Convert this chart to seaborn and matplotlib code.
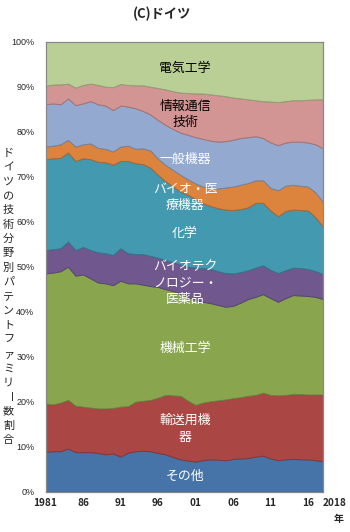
import matplotlib
matplotlib.use("Agg")
import matplotlib.pyplot as plt
import seaborn as sns
import numpy as np
from matplotlib.colors import to_rgb

sns.set_style("white")
plt.rcParams['font.family'] = ['Noto Sans CJK JP', 'DejaVu Sans']

years = list(range(1981, 2019))

other = [8.9, 9.0, 9.0, 9.6, 8.8, 8.8, 8.8, 8.6, 8.3, 8.5,
         7.8, 8.7, 9.0, 9.1, 9.0, 8.6, 8.3, 7.7, 7.2, 6.9,
         6.7, 7.0, 7.2, 7.1, 7.0, 7.3, 7.4, 7.5, 7.8, 8.0,
         7.4, 7.0, 7.2, 7.3, 7.2, 7.2, 7.0, 6.8]
transport = [10.7, 10.4, 10.8, 10.8, 10.3, 10.1, 9.9, 9.9, 10.2, 10.1,
             11.1, 10.3, 11.0, 11.1, 11.4, 12.3, 13.2, 13.7, 14.1, 13.3,
             12.6, 12.8, 12.9, 13.2, 13.5, 13.5, 13.6, 13.8, 13.7, 14.0,
             14.1, 14.4, 14.3, 14.4, 14.5, 14.4, 14.6, 14.8]
mech = [28.9, 29.3, 29.2, 29.6, 28.9, 29.4, 28.7, 28.0, 27.8, 27.3,
        28.0, 27.3, 26.3, 25.8, 25.3, 24.6, 23.5, 23.2, 22.7, 23.1,
        23.3, 22.4, 21.8, 21.2, 20.6, 20.5, 21.0, 21.5, 21.8, 21.9,
        21.5, 20.8, 21.5, 22.0, 21.9, 21.9, 21.7, 21.2]
biotech = [5.2, 5.2, 5.1, 5.6, 5.7, 6.1, 6.3, 6.7, 6.7, 6.7,
           7.2, 6.7, 6.5, 6.8, 6.7, 6.5, 6.5, 6.4, 6.5, 6.7,
           7.2, 7.5, 7.6, 7.5, 7.5, 7.2, 6.8, 6.4, 6.5, 6.4,
           6.3, 6.4, 6.2, 6.1, 6.1, 6.0, 5.7, 5.6]
chem = [20.2, 20.2, 20.1, 19.8, 19.8, 19.7, 20.2, 20.1, 20.2, 20.1,
        19.4, 20.5, 20.2, 20.0, 19.6, 18.4, 17.5, 16.8, 16.2, 16.0,
        15.2, 14.4, 14.0, 14.0, 14.1, 14.1, 14.0, 14.0, 14.4, 13.9,
        13.2, 12.6, 13.2, 12.9, 12.9, 13.0, 12.0, 10.5]
medtech = [2.8, 2.8, 3.0, 2.8, 3.2, 3.1, 3.5, 3.1, 3.0, 2.9,
           3.2, 3.4, 3.2, 3.5, 3.8, 3.6, 3.6, 3.7, 3.7, 3.4,
           3.5, 3.7, 4.1, 4.4, 4.9, 5.2, 5.4, 5.4, 5.0, 5.0,
           5.0, 5.8, 5.6, 5.5, 5.4, 5.3, 5.5, 5.5]
general = [9.4, 9.4, 8.9, 9.2, 9.2, 9.1, 9.4, 9.7, 9.6, 9.2,
           9.1, 8.7, 9.0, 8.3, 8.0, 8.6, 8.9, 9.1, 9.4, 9.9,
           10.3, 10.6, 10.4, 10.4, 10.3, 10.4, 10.4, 10.2, 9.8, 9.4,
           10.1, 10.0, 9.6, 9.6, 9.8, 9.8, 10.7, 11.9]
ict = [4.1, 4.2, 4.4, 3.3, 3.9, 4.1, 3.9, 4.3, 4.2, 5.1,
       4.8, 4.8, 5.1, 5.7, 6.2, 7.1, 7.9, 8.4, 8.9, 9.3,
       9.7, 10.1, 10.3, 10.3, 10.0, 9.4, 8.8, 8.4, 8.0, 8.2,
       9.1, 9.6, 9.2, 9.2, 9.2, 9.5, 10.0, 10.9]
elec = [9.8, 9.5, 9.5, 9.3, 10.2, 9.6, 9.3, 9.6, 10.0, 10.1,
        9.4, 9.6, 9.7, 9.7, 10.0, 10.3, 10.6, 11.0, 11.3, 11.4,
        11.5, 11.5, 11.7, 11.9, 12.1, 12.4, 12.6, 12.8, 13.0, 13.2,
        13.3, 13.4, 13.2, 13.0, 13.0, 12.9, 12.8, 12.8]

series = [other, transport, mech, biotech, chem, medtech, general, ict, elec]
colors = ['#4673a8', '#aa4644', '#89a54e', '#70588f', '#4299b0',
          '#dc843e', '#93a9cf', '#d39494', '#bacf96']

labels = ['その他', '輸送用機\n器', '機械工学', 'バイオテク\nノロジー・\n医薬品', '化学',
          'バイオ・医\n療機器', '一般機器', '情報通信\n技術', '電気工学']
label_y = [476.7, 429, 348.3, 283.3, 233.3, 197.5, 159, 114.5, 68.5]
label_col = ['white'] * 7 + ['black', 'black']

year_ticks = [1981, 1986, 1991, 1996, 2001, 2006, 2011, 2016, 2018]
year_ticklabels = ['1981', '86', '91', '96', '01', '06', '11', '16', '2018']

W, H = 350, 532
fig = plt.figure(figsize=(W / 100, H / 100), dpi=100)
ax = fig.add_axes([45.5 / W, 1 - 491.7 / H, (323 - 45.5) / W, (491.7 - 41.7) / H])

polys = ax.stackplot(years, *series, colors=colors)
for p, c in zip(polys, colors):
    dark = tuple(v * 0.78 for v in to_rgb(c))
    p.set_edgecolor(dark)
    p.set_linewidth(0.7)

ax.set_xlim(1981, 2018)
ax.set_ylim(0, 100)
ax.set_yticks(range(0, 101, 10))
ax.set_yticklabels([f'{v}%' for v in range(0, 101, 10)], family='Liberation Sans', fontsize=6.5)
ax.set_xticks(year_ticks)
ax.set_xticklabels(year_ticklabels, fontsize=7.2, fontweight='bold')
ax.set_xticks(years, minor=True)
ax.tick_params(axis='y', direction='in', length=3, width=0.6, color='#888888', pad=8, left=True)
ax.tick_params(axis='x', which='both', direction='in', length=3, width=0.6, color='#888888',
               pad=4.5, bottom=True)
for t in ax.get_xticklabels():
    if t.get_text() == '2018':
        t.set_horizontalalignment('left')
for s in ax.spines.values():
    s.set_color('#888888')
    s.set_linewidth(0.9)
ax.grid(False)

# in-chart labels
for lab, yy, col in zip(labels, label_y, label_col):
    fig.text(185 / W, 1 - yy / H, lab, ha='center', va='center', color=col,
             fontsize=9.3, linespacing=1.35, multialignment='center')

# title
fig.text(162 / W, 1 - 14 / H, '(C)ドイツ', ha='center', va='center', fontsize=9.5,
         fontweight='bold')
# unit under x axis
fig.text(339 / W, 1 - 519 / H, '年', ha='center', va='center', fontsize=7.2, fontweight='bold')

# vertical y-axis label (top-to-bottom)
ylab = 'ドイツの技術分野別パテントファミリー数割合'
y0, y1 = 153, 440
step = (y1 - y0) / (len(ylab) - 1)
for i, ch in enumerate(ylab):
    rot = -90 if ch == 'ー' else 0
    fig.text(8.5 / W, 1 - (y0 + i * step) / H, ch, ha='center', va='center',
             fontsize=8, rotation=rot)

fig.savefig('out.png', dpi=100)
